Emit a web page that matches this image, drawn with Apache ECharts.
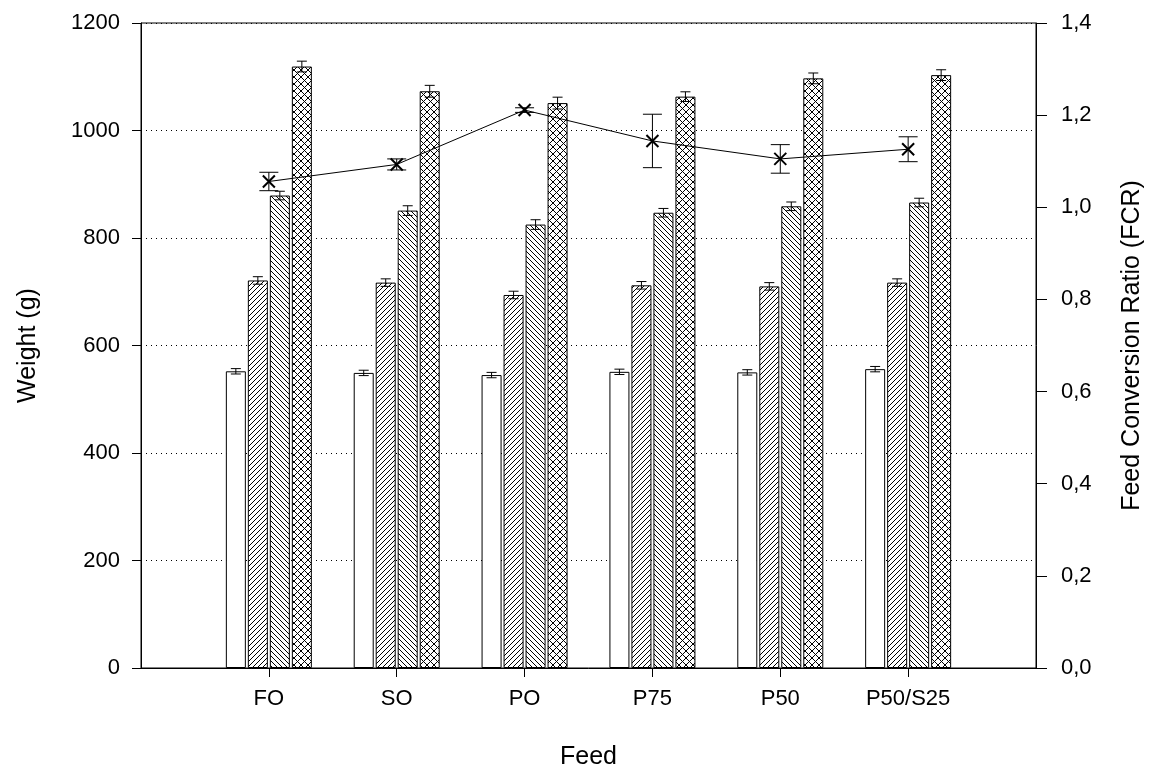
<!DOCTYPE html>
<html>
<head>
<meta charset="utf-8">
<script src="https://cdn.jsdelivr.net/npm/echarts@6/dist/echarts.min.js"></script>
<style>html,body{margin:0;padding:0;background:#fff;}#chart{width:1156px;height:772px;}</style>
</head>
<body>
<div id="chart"></div>
<script>
// ---- data ----
const categories = ['', 'FO', 'SO', 'PO', 'P75', 'P50', 'P50/S25', ''];
const weight1 = [null, 552, 549, 545, 551, 550, 556, null];
const weight2 = [null, 721, 717, 694, 712, 710, 717, null];
const weight3 = [null, 879, 851, 825, 847, 859, 866, null];
const weight4 = [null, 1119, 1073, 1051, 1063, 1097, 1103, null];
const err1 = [null, 5, 5, 5, 5, 5, 5, null];
const err2 = [null, 7, 7, 7, 7, 7, 7, null];
const err3 = [null, 8, 9, 9, 8, 8, 8, null];
const err4 = [null, 10, 11, 11, 9, 10, 10, null];
const fcr = [null, 1.056, 1.093, 1.211, 1.144, 1.105, 1.126, null];
const fcrErr = [null, 0.020, 0.012, 0.005, 0.058, 0.031, 0.027, null];
const leftTicks = [0, 1200, 200];
const rightTicks = [0, 1.4, 0.2];

// ---- styles ----
const FONT = '"Liberation Sans", Arial, sans-serif';
const BAR_W = 20, BAR_GAP = 2;
const TICK_FS = 22, TITLE_FS = 25;

function hatch(dirs, n, lw) {
  const c = document.createElement('canvas');
  c.width = n; c.height = n;
  const g = c.getContext('2d');
  g.fillStyle = '#fff'; g.fillRect(0, 0, n, n);
  g.strokeStyle = '#000'; g.lineWidth = lw;
  g.beginPath();
  dirs.forEach(d => {
    for (let k = -n; k <= n; k += n) {
      if (d === '/') { g.moveTo(k, n); g.lineTo(k + n, 0); }
      else { g.moveTo(k, 0); g.lineTo(k + n, n); }
    }
  });
  g.stroke();
  return { image: c, repeat: 'repeat' };
}

const fills = ['#ffffff', hatch(['/'], 5, 1), hatch(['\\'], 5, 1), hatch(['/', '\\'], 7, 1)];
const weights = [weight1, weight2, weight3, weight4];
const errs = [err1, err2, err3, err4];

const chart = echarts.init(document.getElementById('chart'), null, { renderer: 'canvas' });

const series = [];
weights.forEach((w, i) => {
  series.push({
    type: 'bar', data: w, barWidth: BAR_W, barGap: (BAR_GAP / BAR_W * 100) + '%',
    itemStyle: { color: fills[i], borderColor: '#000', borderWidth: 1 },
    silent: true, z: 2
  });
});
weights.forEach((w, i) => {
  const off = (i - 1.5) * (BAR_W + BAR_GAP);
  const d = [];
  w.forEach((v, k) => { if (v != null) d.push([k, v, errs[i][k]]); });
  series.push({
    type: 'custom', data: d, z: 3, silent: true,
    encode: { x: 0, y: 1 },
    renderItem: function (params, api) {
      const x = api.value(0), v = api.value(1), e = api.value(2);
      const p = api.coord([x, v]);
      const hi = api.coord([x, v + e]);
      const lo = api.coord([x, v - e]);
      const cx = p[0] + off, hw = 5;
      const st = { stroke: '#000', lineWidth: 1 };
      return { type: 'group', children: [
        { type: 'line', shape: { x1: cx, y1: hi[1], x2: cx, y2: lo[1] }, style: st },
        { type: 'line', shape: { x1: cx - hw, y1: hi[1], x2: cx + hw, y2: hi[1] }, style: st },
        { type: 'line', shape: { x1: cx - hw, y1: lo[1], x2: cx + hw, y2: lo[1] }, style: st }
      ]};
    }
  });
});
series.push({
  type: 'line', yAxisIndex: 1, data: fcr, z: 5, silent: true,
  symbol: 'path://M0,0L10,10M10,0L0,10', symbolSize: 12,
  lineStyle: { color: '#000', width: 1 },
  itemStyle: { color: '#000', borderColor: '#000', borderWidth: 2 }
});
const fd = [];
fcr.forEach((v, k) => { if (v != null) fd.push([k, v, fcrErr[k]]); });
series.push({
  type: 'custom', yAxisIndex: 1, data: fd, z: 4, silent: true,
  encode: { x: 0, y: 1 },
  renderItem: function (params, api) {
    const x = api.value(0), v = api.value(1), e = api.value(2);
    const hi = api.coord([x, v + e]);
    const lo = api.coord([x, v - e]);
    const cx = hi[0], hw = 9.5;
    const st = { stroke: '#000', lineWidth: 1 };
    return { type: 'group', children: [
      { type: 'line', shape: { x1: cx, y1: hi[1], x2: cx, y2: lo[1] }, style: st },
      { type: 'line', shape: { x1: cx - hw, y1: hi[1], x2: cx + hw, y2: hi[1] }, style: st },
      { type: 'line', shape: { x1: cx - hw, y1: lo[1], x2: cx + hw, y2: lo[1] }, style: st }
    ]};
  }
});

chart.setOption({
  animation: false,
  backgroundColor: '#fff',
  textStyle: { fontFamily: FONT },
  grid: { left: 141, right: 120, top: 23, bottom: 104, show: true, borderColor: '#000', borderWidth: 1,
    backgroundColor: 'transparent', containLabel: false, outerBoundsMode: 'none' },
  xAxis: {
    type: 'category', data: categories, boundaryGap: false,
    name: 'Feed', nameLocation: 'middle', nameGap: 77,
    nameTextStyle: { fontSize: TITLE_FS, color: '#000', fontFamily: FONT },
    axisLine: { lineStyle: { color: '#000', width: 1 } },
    axisTick: { show: true, length: 9, inside: false, interval: function (i) { return i > 0 && i < categories.length - 1; }, lineStyle: { color: '#000' } },
    axisLabel: { fontSize: TICK_FS, color: '#000', margin: 20, fontFamily: FONT, interval: 0 },
    splitLine: { show: false }
  },
  yAxis: [{
    type: 'value', min: leftTicks[0], max: leftTicks[1], interval: leftTicks[2],
    name: 'Weight (g)', nameLocation: 'middle', nameGap: 100, nameRotate: 90,
    nameTextStyle: { fontSize: TITLE_FS, color: '#000', fontFamily: FONT },
    axisLine: { show: true, lineStyle: { color: '#000', width: 1 } },
    axisTick: { show: true, length: 9, lineStyle: { color: '#000' } },
    axisLabel: { fontSize: TICK_FS, color: '#000', margin: 21, fontFamily: FONT, formatter: v => String(v) },
    splitLine: { show: true, lineStyle: { color: '#000', type: [1, 4], width: 1 } }
  }, {
    type: 'value', min: rightTicks[0], max: rightTicks[1], interval: rightTicks[2], position: 'right',
    name: 'Feed Conversion Ratio (FCR)', nameLocation: 'middle', nameGap: 84, nameRotate: 90,
    nameTextStyle: { fontSize: TITLE_FS, color: '#000', fontFamily: FONT },
    axisLine: { show: true, lineStyle: { color: '#000', width: 1 } },
    axisTick: { show: true, length: 11, lineStyle: { color: '#000' } },
    axisLabel: { fontSize: TICK_FS, color: '#000', margin: 25, fontFamily: FONT,
      formatter: v => v.toFixed(1).replace('.', ',') },
    splitLine: { show: false }
  }],
  series: series
});
</script>
</body>
</html>
